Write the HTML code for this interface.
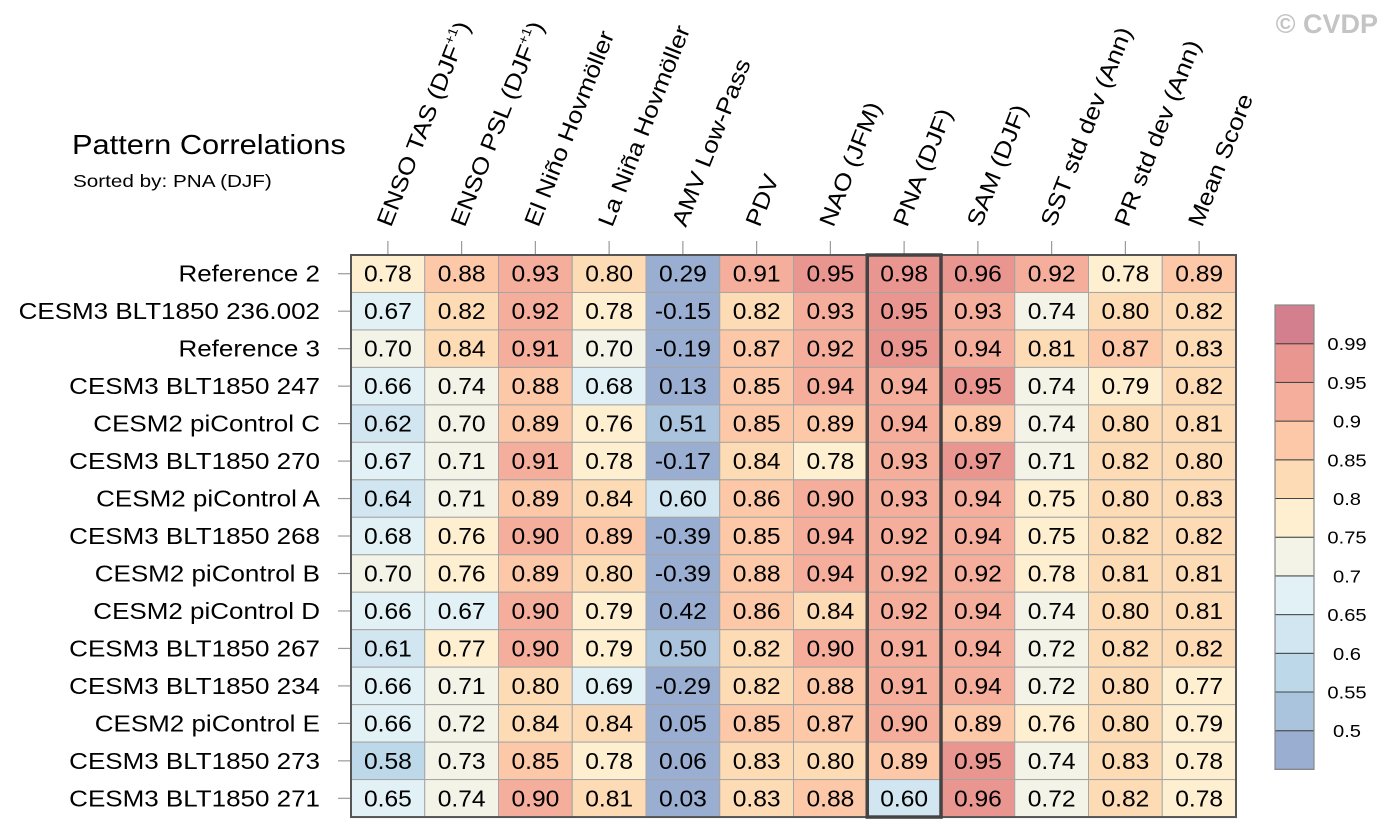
<!DOCTYPE html>
<html><head><meta charset="utf-8"><style>
html,body{margin:0;padding:0;background:#fff;}
svg{display:block;font-family:"Liberation Sans",Arial,sans-serif;}
</style></head><body>
<svg id="chart" width="1386" height="839" viewBox="0 0 1386 839">
<text x="1378" y="33" text-anchor="end" font-size="27" font-weight="bold" fill="#c4c4c4">© CVDP</text>
<text x="0" y="0" transform="translate(72,154) scale(1.1,1)" font-size="28" fill="#000">Pattern Correlations</text>
<text x="0" y="0" transform="translate(73,187) scale(1.15,1)" font-size="18" fill="#000">Sorted by: PNA (DJF)</text>
<g id="grid"></g>
<g id="cbar"></g>
</svg>
<script>
const columns = ["ENSO TAS (DJF+1)","ENSO PSL (DJF+1)","El Niño Hovmöller","La Niña Hovmöller","AMV Low-Pass","PDV","NAO (JFM)","PNA (DJF)","SAM (DJF)","SST std dev (Ann)","PR std dev (Ann)","Mean Score"];
const rows = ["Reference 2","CESM3 BLT1850 236.002","Reference 3","CESM3 BLT1850 247","CESM2 piControl C","CESM3 BLT1850 270","CESM2 piControl A","CESM3 BLT1850 268","CESM2 piControl B","CESM2 piControl D","CESM3 BLT1850 267","CESM3 BLT1850 234","CESM2 piControl E","CESM3 BLT1850 273","CESM3 BLT1850 271"];
const values = [
[0.78,0.88,0.93,0.80,0.29,0.91,0.95,0.98,0.96,0.92,0.78,0.89],
[0.67,0.82,0.92,0.78,-0.15,0.82,0.93,0.95,0.93,0.74,0.80,0.82],
[0.70,0.84,0.91,0.70,-0.19,0.87,0.92,0.95,0.94,0.81,0.87,0.83],
[0.66,0.74,0.88,0.68,0.13,0.85,0.94,0.94,0.95,0.74,0.79,0.82],
[0.62,0.70,0.89,0.76,0.51,0.85,0.89,0.94,0.89,0.74,0.80,0.81],
[0.67,0.71,0.91,0.78,-0.17,0.84,0.78,0.93,0.97,0.71,0.82,0.80],
[0.64,0.71,0.89,0.84,0.60,0.86,0.90,0.93,0.94,0.75,0.80,0.83],
[0.68,0.76,0.90,0.89,-0.39,0.85,0.94,0.92,0.94,0.75,0.82,0.82],
[0.70,0.76,0.89,0.80,-0.39,0.88,0.94,0.92,0.92,0.78,0.81,0.81],
[0.66,0.67,0.90,0.79,0.42,0.86,0.84,0.92,0.94,0.74,0.80,0.81],
[0.61,0.77,0.90,0.79,0.50,0.82,0.90,0.91,0.94,0.72,0.82,0.82],
[0.66,0.71,0.80,0.69,-0.29,0.82,0.88,0.91,0.94,0.72,0.80,0.77],
[0.66,0.72,0.84,0.84,0.05,0.85,0.87,0.90,0.89,0.76,0.80,0.79],
[0.58,0.73,0.85,0.78,0.06,0.83,0.80,0.89,0.95,0.74,0.83,0.78],
[0.65,0.74,0.90,0.81,0.03,0.83,0.88,0.60,0.96,0.72,0.82,0.78]];
const levels = [0.5,0.55,0.6,0.65,0.7,0.75,0.8,0.85,0.9,0.95,0.99];
const levelLabels = ["0.5","0.55","0.6","0.65","0.7","0.75","0.8","0.85","0.9","0.95","0.99"];
const palette = ["#9aaed2","#aac4dd","#bcd8e9","#d1e6f0","#e1f1f6","#f3f3e8","#fdefd0","#fddcb5","#fcc8a8","#f5ae9b","#ea9690","#d47f8e"];
const sortedCol = 7;

const NS="http://www.w3.org/2000/svg";
const X0=351,Y0=255,CW=73.75,RH=37.47;
const xPos=i=>X0+i*CW, yPos=j=>Y0+j*RH;
function colorFor(v){let k=0;while(k<levels.length&&v>=levels[k]-1e-9)k++;return palette[k];}
function mk(tag,attrs,parent){const e=document.createElementNS(NS,tag);for(const k in attrs)e.setAttribute(k,attrs[k]);parent.appendChild(e);return e;}
const g=document.getElementById('grid');
columns.forEach((c,i)=>{
  const cx=xPos(i)+CW/2;
  const t=mk('line',{x1:cx,x2:cx,y1:241,y2:Y0,stroke:'#999','stroke-width':1.2},g);
  
  
  const lab=mk('text',{x:0,y:0,transform:`translate(${cx+3},228) rotate(-68.5) scale(1.13,1)`,'font-size':23},g);
  
  
  const m=c.match(/^(.*DJF)\+1\)$/);
  if(m){lab.textContent=m[1];const s=mk('tspan',{'font-size':13,dy:-10},lab);s.textContent='+1';const s2=mk('tspan',{dy:10},lab);s2.textContent=')';}
  else lab.textContent=c;
});
rows.forEach((r,j)=>{
  const cy=yPos(j)+RH/2;
  const t=mk('line',{x1:338,x2:X0,y1:cy,y2:cy,stroke:'#999','stroke-width':1.2},g);
  
  
  const lab=mk('text',{x:0,y:0,transform:`translate(320,${cy+8}) scale(1.13,1)`,'text-anchor':'end','font-size':23},g);
  lab.textContent=r;
  
  
  values[j].forEach((v,i)=>{
    const rc=mk('rect',{x:xPos(i),y:yPos(j),width:CW,height:RH,fill:colorFor(v),stroke:'#a5a5a5','stroke-width':1},g);
    
    
    const tx=mk('text',{x:0,y:0,transform:`translate(${xPos(i)+CW/2},${yPos(j)+RH/2+8}) scale(1.07,1)`,'text-anchor':'middle','font-size':23},g);
    tx.textContent=v.toFixed(2);
    
    
  });
});
const fr=mk('rect',{x:X0,y:Y0,width:CW*columns.length,height:RH*rows.length,fill:'none',stroke:'#555','stroke-width':2},g);


const hl=mk('rect',{x:xPos(sortedCol),y:Y0,width:CW,height:RH*rows.length,fill:'none',stroke:'#444','stroke-width':3.5},g);


const cb=document.getElementById('cbar');
const CBX=1275,CBY=305,CBW=39,BH=38.7,n=palette.length;
for(let k=0;k<n;k++){
  const rc=mk('rect',{x:CBX,y:CBY+(n-1-k)*BH,width:CBW,height:BH,fill:palette[k],stroke:'#444','stroke-width':1},cb);
  
  
}
const cf=mk('rect',{x:CBX,y:CBY,width:CBW,height:BH*n,fill:'none',stroke:'#888','stroke-width':1.2},cb);


levelLabels.forEach((l,k)=>{
  const y=CBY+(n-1-k)*BH;
  const t=mk('text',{x:0,y:0,transform:`translate(1347,${y+6.5}) scale(1.12,1)`,'text-anchor':'middle','font-size':18},cb);
  t.textContent=l;
  
  
});
</script>
</body></html>
